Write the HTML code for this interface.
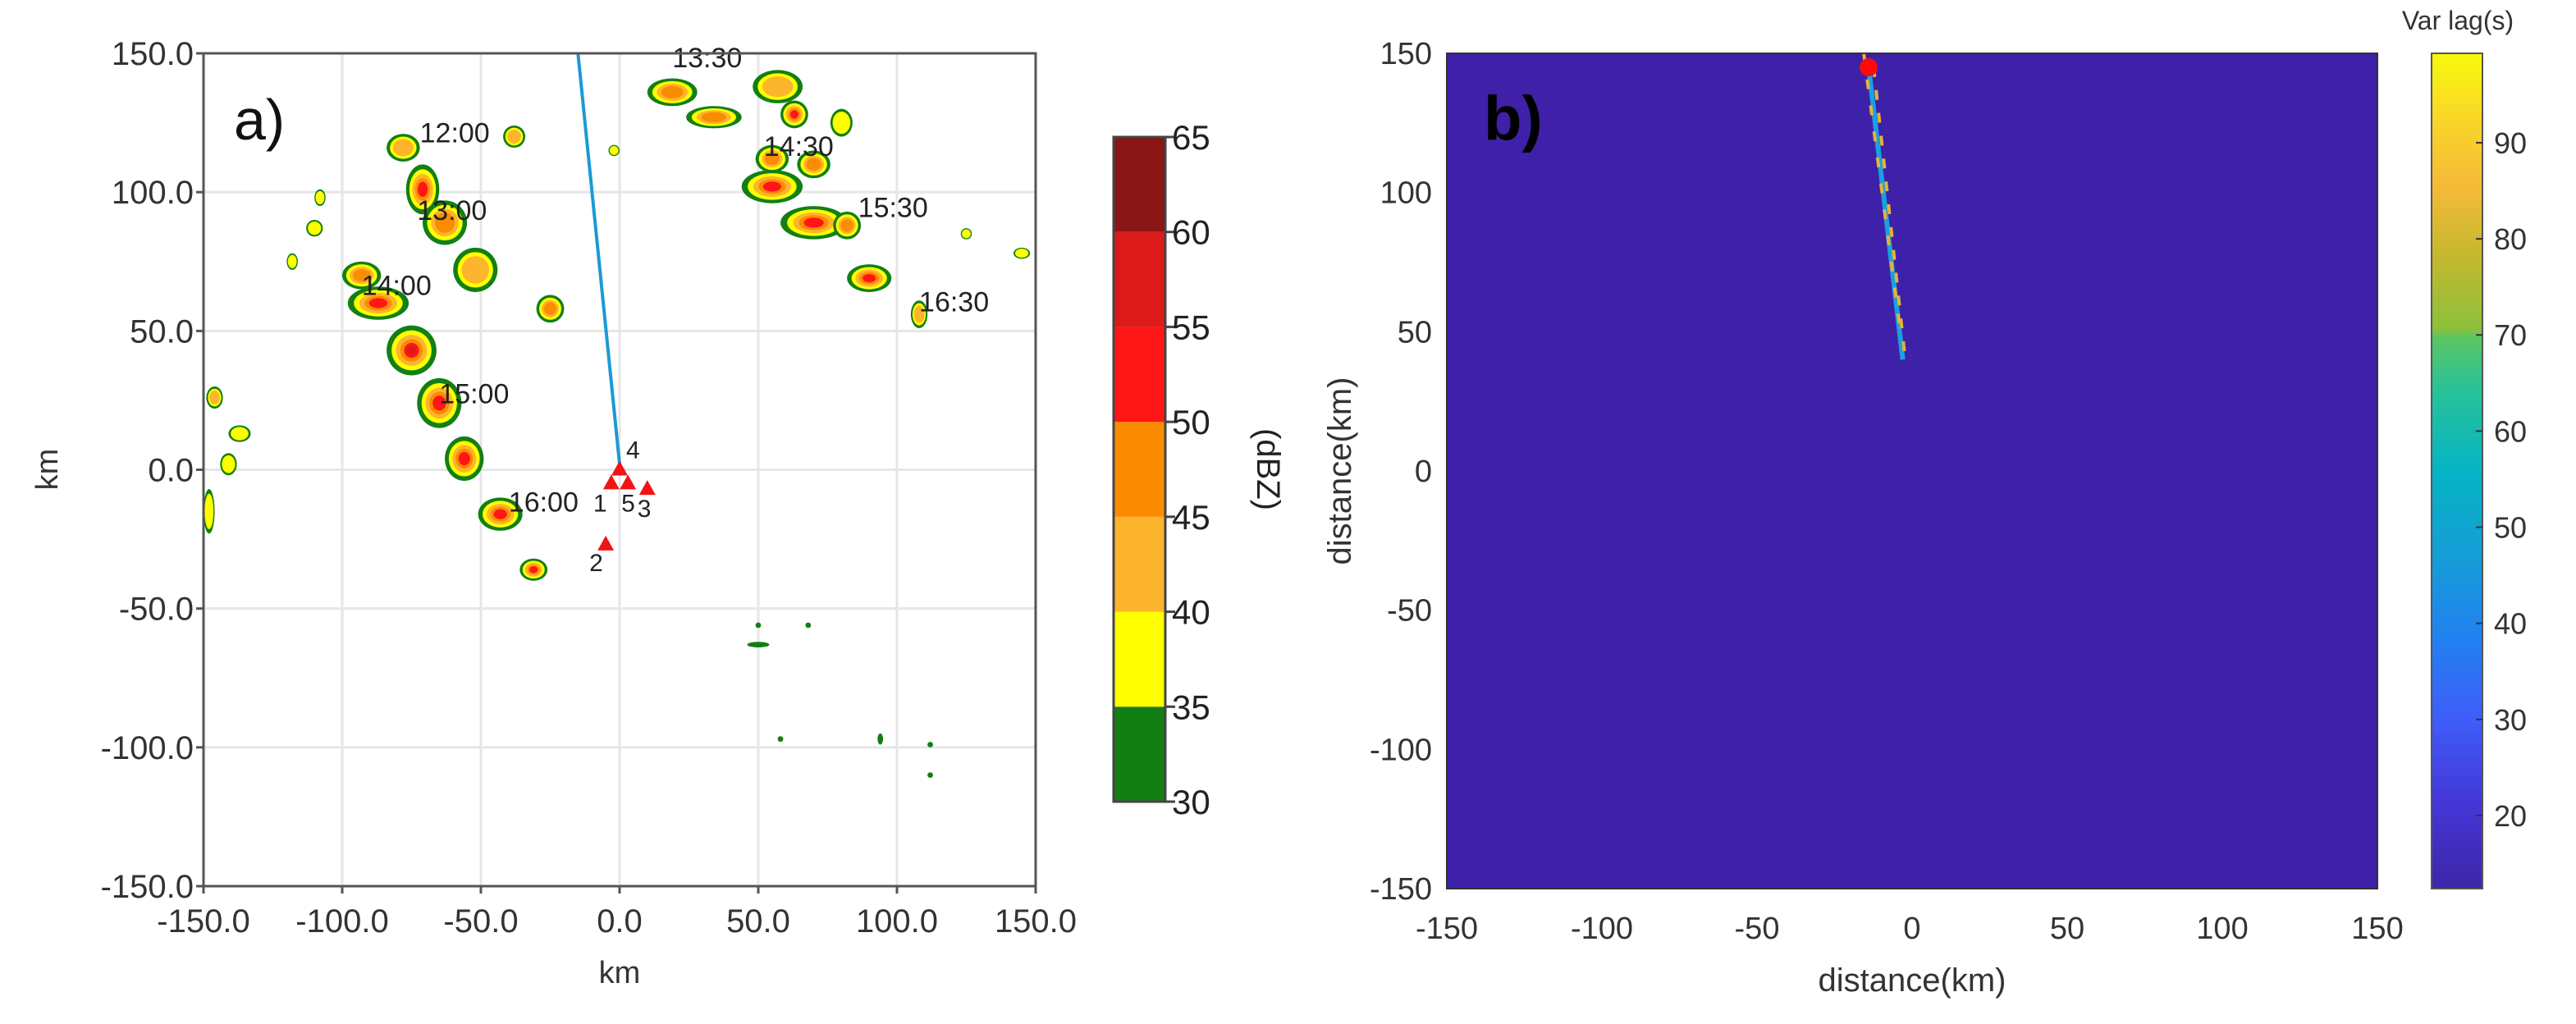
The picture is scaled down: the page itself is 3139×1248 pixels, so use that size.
<!DOCTYPE html>
<html><head><meta charset="utf-8"><style>
html,body{margin:0;padding:0;background:#fff;overflow:hidden;}
svg{display:block;font-family:"Liberation Sans",Arial,sans-serif;}
</style></head><body>
<svg id="fig" width="3139" height="1248" viewBox="0 0 3139 1248" xmlns="http://www.w3.org/2000/svg">
<defs>
<linearGradient id="parula" x1="0" y1="1" x2="0" y2="0">
<stop offset="0" stop-color="#3e26a8"/><stop offset="0.1" stop-color="#4435d6"/><stop offset="0.2" stop-color="#3f5cf9"/>
<stop offset="0.3" stop-color="#2281f0"/><stop offset="0.4" stop-color="#159ed7"/><stop offset="0.5" stop-color="#06b4c4"/>
<stop offset="0.6" stop-color="#2ac296"/><stop offset="0.66" stop-color="#5cc563"/><stop offset="0.67" stop-color="#8cc03c"/>
<stop offset="0.76" stop-color="#c6b82e"/><stop offset="0.84" stop-color="#f6ba3a"/><stop offset="0.92" stop-color="#f9d528"/><stop offset="1" stop-color="#f8fa0d"/>
</linearGradient>
</defs>
<g id="pa"></g>
<g id="pb"></g>
</svg>
<script>
// ---------- Panel a data ----------
const axTicks = [-150, -100, -50, 0, 50, 100, 150];
const axTickLabels = ["-150.0","-100.0","-50.0","0.0","50.0","100.0","150.0"];
const cellX = [-78,-71,-63,-52,-93,-87,-75,-65,-56,-43,-31,-25,-38,-146,-137,-141,-148,-110,-108,-118,19,34,57,63,55,70,55,70,82,90,108,125,145,80,50,50,68,58,94,112,112,-2];
const cellY = [116,101,89,72,70,60,43,24,4,-16,-36,58,120,26,13,2,-15,87,98,75,136,127,138,128,112,110,102,89,88,69,56,85,78,125,-63,-56,-56,-97,-97,-99,-110,115];
const cellRX = [6,6,8,8,7,11,9,8,7,8,5,5,4,3,4,3,2,3,2,2,9,10,9,5,6,6,11,12,5,8,3,2,3,4,4,1,1,1,1,1,1,2];
const cellRY = [5,9,8,8,5,6,9,9,8,6,4,5,4,4,3,4,8,3,3,3,5,4,6,5,5,5,6,6,5,5,5,2,2,5,1,1,1,1,2,1,1,2];
const cellLevel = [2,4,3,2,3,4,5,4,4,4,4,3,2,2,1,1,1,1,1,1,3,3,2,4,3,3,4,4,3,4,2,1,1,1,0,0,0,0,0,0,0,1];
const timeLabels = ["12:00","13:00","14:00","15:00","16:00","13:30","14:30","15:30","16:30"];
const timeX = [-72,-73,-93,-65,-40,19,52,86,108];
const timeY = [118,90,63,24,-15,145,113,91,57];
const stationIds = ["4","1","5","3","2"];
const stationX = [0,-3,3,10,-5];
const stationY = [0,-5,-5,-7,-27];
const trackX = [-15, 0];
const trackY = [150, 2];
const cbLevels = [30,35,40,45,50,55,60,65];
const cbColors = ["#127f12","#ffff00","#fdb52e","#fb8c00","#ff1616","#dd1a1a","#8a1616"];
// ---------- Panel b data ----------
const bTicks = [-150,-100,-50,0,50,100,150];
const bCbTicks = [20,30,40,50,60,70,80,90];
const bCbMin = 12.4, bCbMax = 99.3;
const bLineX = [-14, -3];
const bLineY = [145, 40];
const bDot = [-14, 145];

const NS = "http://www.w3.org/2000/svg";
function mk(tag, attrs, parent, text){
  const e = document.createElementNS(NS, tag);
  for (const k in attrs) e.setAttribute(k, attrs[k]);
  if (text !== undefined) e.textContent = text;
  parent.appendChild(e); return e;
}
const pa = document.getElementById('pa');
const pb = document.getElementById('pb');

const aL=248,aR=1262,aT=65,aB=1080;
const ax = v => aL + (v+150)/300*(aR-aL);
const ay = v => aT + (150-v)/300*(aB-aT);
const kmx = (aR-aL)/300, kmy=(aB-aT)/300;

axTicks.forEach((t,i)=>{
  let g = mk('line',{x1:ax(t),x2:ax(t),y1:aT,y2:aB,stroke:'#e6e6e6','stroke-width':3},pa);
   
  g = mk('line',{x1:aL,x2:aR,y1:ay(t),y2:ay(t),stroke:'#e6e6e6','stroke-width':3},pa);
   
});
const lvlScale=[1,0.8,0.62,0.45,0.3,0.18,0.1];
cellX.forEach((cx,i)=>{
  const g = mk('g',{},pa);
  
  
  for(let l=0;l<=cellLevel[i];l++){
    mk('ellipse',{cx:ax(cx),cy:ay(cellY[i]),rx:Math.max(2,cellRX[i]*kmx*lvlScale[l]),ry:Math.max(2,cellRY[i]*kmy*lvlScale[l]),fill:cbColors[l]},g);
  }
});
let tl = mk('line',{x1:ax(trackX[0]),y1:ay(trackY[0]),x2:ax(trackX[1]),y2:ay(trackY[1]),stroke:'#1a9ad6','stroke-width':4},pa);
 
timeLabels.forEach((s,i)=>{
  const t = mk('text',{x:ax(timeX[i]),y:ay(timeY[i]),'font-size':34,fill:'#222'},pa,s);
   
});
stationIds.forEach((s,i)=>{
  const x=ax(stationX[i]),y=ay(stationY[i]);
  const p = mk('polygon',{points:`${x},${y-11} ${x-10},${y+7} ${x+10},${y+7}`,fill:'#f01414'},pa);
   
  const dx = s==="4"?8: s==="1"?-22 : s==="5"?-8 : s==="3"?-12: -20;
  const dy = s==="4"?-14: s==="2"?32 : 34;
  const t = mk('text',{x:x+dx,y:y+dy,'font-size':30,fill:'#222'},pa,s);
   
});
let fr = mk('rect',{x:aL,y:aT,width:aR-aL,height:aB-aT,fill:'none',stroke:'#555','stroke-width':3},pa);
 
axTicks.forEach((t,i)=>{
  mk('line',{x1:ax(t),x2:ax(t),y1:aB,y2:aB+9,stroke:'#555','stroke-width':3},pa);
  mk('line',{x1:aL-9,x2:aL,y1:ay(t),y2:ay(t),stroke:'#555','stroke-width':3},pa);
  let e = mk('text',{x:ax(t),y:aB+56,'font-size':40,fill:'#333','text-anchor':'middle'},pa,axTickLabels[i]);
   
  e = mk('text',{x:aL-12,y:ay(t)+14,'font-size':40,fill:'#333','text-anchor':'end'},pa,axTickLabels[i]);
   
});
let e = mk('text',{x:755,y:1198,'font-size':38,fill:'#333','text-anchor':'middle'},pa,'km');
 
e = mk('text',{x:0,y:0,'font-size':38,fill:'#333','text-anchor':'middle',transform:'translate(70,572) rotate(-90)'},pa,'km');
 
e = mk('text',{x:285,y:170,'font-size':70,fill:'#111'},pa,'a)');
 
const cbT=167,cbB=977,cbL=1357,cbW=63;
const cby = v => cbB - (v-30)/35*(cbB-cbT);
cbColors.forEach((c,i)=>{
  const r = mk('rect',{x:cbL,y:cby(cbLevels[i+1]),width:cbW,height:cby(cbLevels[i])-cby(cbLevels[i+1]),fill:c},pa);
   
});
mk('rect',{x:cbL,y:cbT,width:cbW,height:cbB-cbT,fill:'none',stroke:'#444','stroke-width':3},pa);
cbLevels.forEach(v=>{
  mk('line',{x1:cbL+cbW,x2:cbL+cbW+12,y1:cby(v),y2:cby(v),stroke:'#444','stroke-width':3},pa);
  const t = mk('text',{x:cbL+cbW+8,y:cby(v)+15,'font-size':42,fill:'#222'},pa,String(v));
   
});
e = mk('text',{x:0,y:0,'font-size':40,fill:'#222','text-anchor':'middle',transform:'translate(1532,572) rotate(90)'},pa,'(dBZ)');
 

// ---------- Panel b ----------
const bL=1763,bR=2897,bT=65,bB=1083;
const bx = v => bL + (v+150)/300*(bR-bL);
const by = v => bT + (150-v)/300*(bB-bT);
e = mk('rect',{x:bL,y:bT,width:bR-bL,height:bB-bT,fill:'#3e21a8'},pb);
 
e = mk('line',{x1:bx(bLineX[0]),y1:by(bLineY[0]),x2:bx(bLineX[1]),y2:by(bLineY[1]),stroke:'#1aa0e0','stroke-width':6},pb);
 
e = mk('line',{x1:bx(bLineX[0])+6,y1:by(bLineY[0]),x2:bx(bLineX[1])+3,y2:by(bLineY[1]),stroke:'#e6b23a','stroke-width':4,'stroke-dasharray':'12 16'},pb);
 
e = mk('line',{x1:bx(bLineX[0])-6,y1:by(bLineY[0]+5),x2:bx(bLineX[1])-2,y2:by(bLineY[1]+8),stroke:'#e6b23a','stroke-width':4,'stroke-dasharray':'12 20'},pb);
 
e = mk('circle',{cx:bx(bDot[0]),cy:by(bDot[1]),r:11,fill:'#ff0a0a'},pb);
 
mk('rect',{x:bL,y:bT,width:bR-bL,height:bB-bT,fill:'none',stroke:'#333','stroke-width':2},pb);
bTicks.forEach(t=>{
  let q = mk('text',{x:bx(t),y:1144,'font-size':38,fill:'#333','text-anchor':'middle'},pb,String(t));
   
  q = mk('text',{x:bL-18,y:by(t)+13,'font-size':38,fill:'#333','text-anchor':'end'},pb,String(t));
   
});
e = mk('text',{x:2330,y:1208,'font-size':40,fill:'#333','text-anchor':'middle'},pb,'distance(km)');
 
e = mk('text',{x:0,y:0,'font-size':40,fill:'#333','text-anchor':'middle',transform:'translate(1646,574) rotate(-90)'},pb,'distance(km)');
 
e = mk('text',{x:1808,y:170,'font-size':76,'font-weight':'bold',fill:'#000'},pb,'b)');
 
const cL=2963,cW=62,cT=65,cB=1083;
const cy2 = v => cB - (v-bCbMin)/(bCbMax-bCbMin)*(cB-cT);
e = mk('rect',{x:cL,y:cT,width:cW,height:cB-cT,fill:'url(#parula)',stroke:'#555','stroke-width':2},pb);
 
bCbTicks.forEach(v=>{
  mk('line',{x1:cL+cW-8,x2:cL+cW,y1:cy2(v),y2:cy2(v),stroke:'#333','stroke-width':2},pb);
  const q = mk('text',{x:cL+cW+14,y:cy2(v)+13,'font-size':36,fill:'#333'},pb,String(v));
   
});
e = mk('text',{x:2995,y:36,'font-size':32,fill:'#333','text-anchor':'middle'},pb,'Var lag(s)');
 
</script>
</body></html>
